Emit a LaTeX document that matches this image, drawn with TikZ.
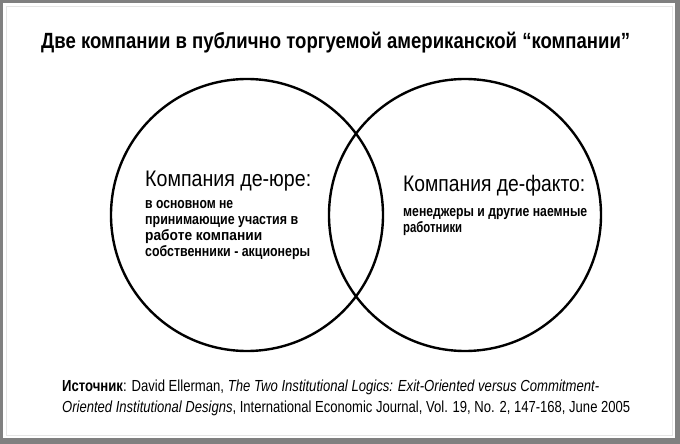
\documentclass[tikz,border=0pt]{standalone}
\usepackage{fontspec}
\setmainfont{Liberation Sans}
\newfontfamily\nar[FakeStretch=0.8]{Liberation Sans}
\newcommand\fitw[2]{\sbox0{#2}\pgfmathsetmacro\fitr{#1/\the\wd0}\scalebox{\fitr}[1]{\usebox0}}
\begin{document}
\begin{tikzpicture}[x=1pt,y=-1pt,
  txt/.style={inner sep=0pt, anchor=mid west, text=black},
  venn/.style={circle, draw=black, line width=2.4pt, minimum size=272pt, inner sep=0pt}]
\useasboundingbox (0,0) rectangle (680,444);
\fill[black!50] (0,0) rectangle (680,444);
\fill[white] (3,3) rectangle (675,438);
\draw[black!10, line width=0.6pt] (6,6) rectangle (672,435);
% title
\node[txt] (title) at (41,46) {\fitw{589}{\nar\bfseries\fontsize{22}{26}\selectfont Две компании в публично торгуемой американской “компании”}};
% circles
\node[venn] (cl) at (247,215) {};
\node[venn] (cr) at (465,215) {};
% left text
\node[txt] (lh) at (145,184) {\fitw{166}{\nar\fontsize{22.5}{26}\selectfont Компания де-юре:}};
\node[txt] (l1) at (145,206) {\fitw{88}{\nar\bfseries\fontsize{15}{17}\selectfont в основном не}};
\node[txt] (l2) at (145,222) {\fitw{153}{\nar\bfseries\fontsize{15}{17}\selectfont принимающие участия в}};
\node[txt] (l3) at (145,238) {\fitw{117}{\nar\bfseries\fontsize{15}{17}\selectfont работе компании}};
\node[txt] (l4) at (145,254) {\fitw{165}{\nar\bfseries\fontsize{15}{17}\selectfont собственники - акционеры}};
% right text
\node[txt] (rh) at (403,189) {\fitw{182}{\nar\fontsize{22.5}{26}\selectfont Компания де-факто:}};
\node[txt] (r1) at (403,214) {\fitw{184}{\nar\bfseries\fontsize{15}{17}\selectfont менеджеры и другие наемные}};
\node[txt] (r2) at (403,230) {\fitw{59}{\nar\bfseries\fontsize{15}{17}\selectfont работники}};
% source
\node[txt] (s1) at (62,389) {\fitw{537}{\nar\fontsize{16}{18}\selectfont \textbf{Источник}: David Ellerman, \textit{The Two Institutional Logics: Exit-Oriented versus Commitment-}}};
\node[txt] (s2) at (62,410) {\fitw{568}{\nar\fontsize{16}{18}\selectfont \textit{Oriented Institutional Designs}, International Economic Journal, Vol. 19, No. 2, 147-168, June 2005}};
\end{tikzpicture}
\end{document}
